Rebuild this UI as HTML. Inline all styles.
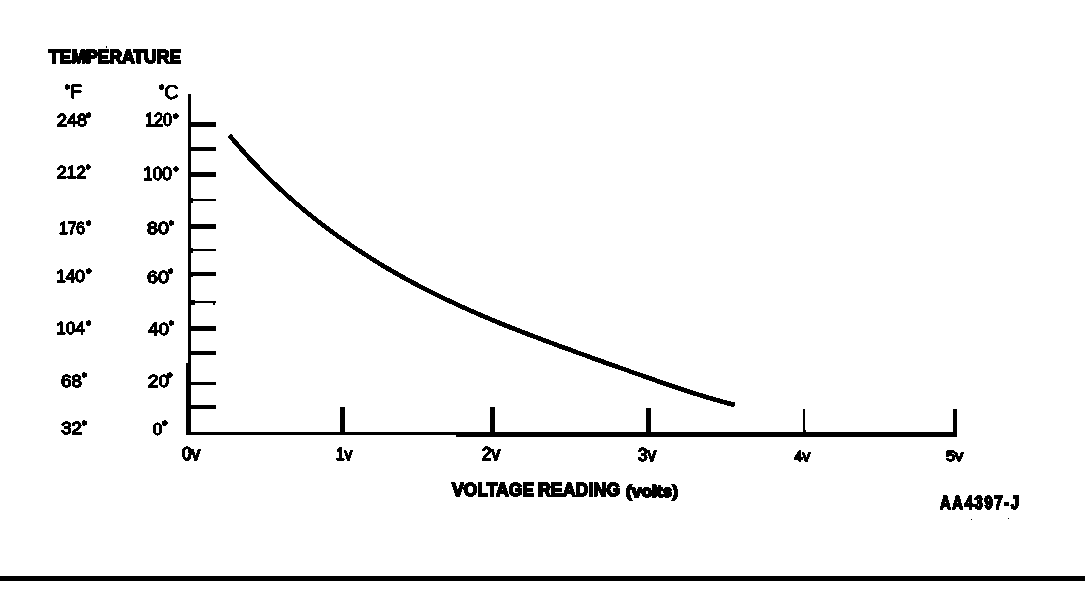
<!DOCTYPE html>
<html lang="en">
<head>
<meta charset="utf-8">
<title>Temperature vs Voltage Reading</title>
<style>
  html, body { margin: 0; padding: 0; background: #fff; }
  body { width: 1088px; height: 612px; overflow: hidden; position: relative; }
  svg { position: absolute; left: 0; top: 0; display: block; }
  text { font-family: "Liberation Sans", Arial, Helvetica, sans-serif; fill: #000; stroke: #000; stroke-linejoin: miter; }
  .r { font-weight: 400; stroke-width: 0.9px; }
  .f { font-weight: 400; stroke-width: 0.6px; }
  .x { font-weight: 400; stroke-width: 1.2px; }
  .d { font-weight: 700; stroke-width: 1.3px; }
  .b { font-weight: 700; stroke-width: 1.3px; }
  .i { font-weight: 700; font-style: italic; stroke-width: 1.3px; }
</style>
</head>
<body>
<svg width="1088" height="612" viewBox="0 0 1088 612">
  <defs>
    <filter id="bw" x="0" y="0" width="1088" height="612" filterUnits="userSpaceOnUse" color-interpolation-filters="sRGB">
      <feComponentTransfer>
        <feFuncR type="discrete" tableValues="0 0 0 1"/>
        <feFuncG type="discrete" tableValues="0 0 0 1"/>
        <feFuncB type="discrete" tableValues="0 0 0 1"/>
      </feComponentTransfer>
    </filter>
  </defs>
  <g filter="url(#bw)">
  <rect x="0" y="0" width="1088" height="612" fill="#fff"/>
  <!-- axes, ticks, rule -->
  <g fill="#000" shape-rendering="crispEdges">
    <rect x="188" y="94" width="3" height="270"/>
    <rect x="186" y="363" width="5" height="72"/>
    <rect x="186" y="432" width="271" height="3"/>
    <rect x="456" y="432" width="501" height="5"/>
    <rect x="190" y="122" width="26" height="5"/>
    <rect x="190" y="147" width="26" height="4"/>
    <rect x="190" y="172" width="26" height="5"/>
    <rect x="190" y="199" width="26" height="2"/>
    <rect x="190" y="198" width="3" height="5"/>
    <rect x="190" y="224" width="26" height="5"/>
    <rect x="190" y="249" width="26" height="2"/>
    <rect x="190" y="248" width="3" height="5"/>
    <rect x="190" y="272" width="26" height="4"/>
    <rect x="190" y="272" width="3" height="5"/>
    <rect x="190" y="301" width="26" height="2"/>
    <rect x="190" y="300" width="5" height="5"/>
    <rect x="213" y="303" width="2" height="2"/>
    <rect x="190" y="326" width="26" height="5"/>
    <rect x="190" y="351" width="26" height="4"/>
    <rect x="190" y="382" width="26" height="3"/>
    <rect x="190" y="405" width="26" height="4"/>
    <rect x="340" y="407" width="5" height="27"/>
    <rect x="490" y="407" width="5" height="27"/>
    <rect x="646" y="408" width="5" height="27"/>
    <rect x="803" y="409" width="2" height="27"/>
    <rect x="803" y="430" width="3" height="3"/>
    <rect x="953" y="409" width="4" height="27"/>
    <rect x="0" y="576" width="1085" height="5"/>
    <rect x="106" y="46" width="1" height="2"/>
    <rect x="971" y="519" width="1" height="1"/>
    <rect x="1008" y="518" width="1" height="1"/>
  </g>
  <!-- curve -->
  <path fill="none" stroke="#000" stroke-width="4.2" stroke-linecap="butt" stroke-linejoin="round"
    d="M229.3,135.20 L236.0,143.16 L243.0,151.16 L250.0,158.87 L257.0,166.30 L264.0,173.46 L271.0,180.37 L278.0,187.05 L285.0,193.50 L292.0,199.74 L299.0,205.78 L306.0,211.63 L313.0,217.30 L320.0,222.80 L327.0,228.14 L334.0,233.32 L341.0,238.35 L348.0,243.23 L355.0,247.98 L362.0,252.60 L369.0,257.09 L376.0,261.46 L383.0,265.71 L390.0,269.85 L397.0,273.88 L404.0,277.80 L411.0,281.63 L418.0,285.36 L425.0,289.00 L432.0,292.55 L439.0,296.01 L446.0,299.39 L453.0,302.69 L460.0,305.92 L467.0,309.08 L474.0,312.17 L481.0,315.20 L488.0,318.17 L495.0,321.09 L502.0,323.95 L509.0,326.77 L516.0,329.54 L523.0,332.27 L530.0,334.97 L537.0,337.63 L544.0,340.26 L551.0,342.87 L558.0,345.46 L565.0,348.02 L572.0,350.57 L579.0,353.11 L586.0,355.63 L593.0,358.15 L600.0,360.66 L607.0,363.16 L614.0,365.65 L621.0,368.14 L628.0,370.63 L635.0,373.11 L642.0,375.58 L649.0,378.04 L656.0,380.48 L663.0,382.91 L670.0,385.31 L677.0,387.69 L684.0,390.02 L691.0,392.31 L698.0,394.55 L705.0,396.71 L712.0,398.80 L719.0,400.79 L726.0,402.67 L733.0,404.43 L734.5,404.78"/>
  <!-- labels -->
  <text><tspan class="b" font-size="19.00" x="48.90" y="62.70" textLength="132.10" lengthAdjust="spacingAndGlyphs">TEMPERATURE</tspan></text>
  <text><tspan class="d" font-size="13.00" x="64.73" y="93.60">°</tspan><tspan class="f" font-size="18.77" x="70.40" y="97.70">F</tspan></text>
  <text><tspan class="d" font-size="13.00" x="158.89" y="93.60">°</tspan><tspan class="f" font-size="19.50" x="164.18" y="98.62">C</tspan></text>
  <text><tspan class="r" font-size="16.81" x="57.00" y="125.70" textLength="30.00" lengthAdjust="spacingAndGlyphs">248</tspan><tspan class="d" font-size="13.00" x="86.00" y="121.56">°</tspan></text>
  <text><tspan class="r" font-size="19.00" x="145.10" y="125.70" textLength="26.90" lengthAdjust="spacingAndGlyphs">120</tspan><tspan class="d" font-size="13.00" x="173.37" y="122.52">°</tspan></text>
  <text><tspan class="r" font-size="15.83" x="57.00" y="177.70" textLength="28.95" lengthAdjust="spacingAndGlyphs">212</tspan><tspan class="d" font-size="11.00" x="86.11" y="173.17">°</tspan></text>
  <text><tspan class="r" font-size="18.40" x="143.10" y="179.65" textLength="28.90" lengthAdjust="spacingAndGlyphs">100</tspan><tspan class="d" font-size="13.00" x="173.55" y="175.60">°</tspan></text>
  <text><tspan class="r" font-size="15.83" x="59.00" y="233.70" textLength="26.00" lengthAdjust="spacingAndGlyphs">176</tspan><tspan class="d" font-size="13.00" x="86.00" y="229.60">°</tspan></text>
  <text><tspan class="r" font-size="15.83" x="147.00" y="233.70" textLength="21.95" lengthAdjust="spacingAndGlyphs">80</tspan><tspan class="d" font-size="13.00" x="168.67" y="229.60">°</tspan></text>
  <text><tspan class="r" font-size="15.83" x="56.10" y="281.70" textLength="28.90" lengthAdjust="spacingAndGlyphs">140</tspan><tspan class="d" font-size="13.00" x="86.28" y="277.60">°</tspan></text>
  <text><tspan class="r" font-size="16.81" x="147.00" y="282.70" textLength="21.95" lengthAdjust="spacingAndGlyphs">60</tspan><tspan class="d" font-size="13.00" x="168.09" y="277.60">°</tspan></text>
  <text><tspan class="r" font-size="15.83" x="56.10" y="333.70" textLength="28.90" lengthAdjust="spacingAndGlyphs">104</tspan><tspan class="d" font-size="13.00" x="86.00" y="330.08">°</tspan></text>
  <text><tspan class="r" font-size="16.81" x="148.00" y="334.70" textLength="20.95" lengthAdjust="spacingAndGlyphs">40</tspan><tspan class="d" font-size="13.00" x="168.67" y="330.08">°</tspan></text>
  <text><tspan class="r" font-size="17.39" x="61.00" y="386.65" textLength="20.95" lengthAdjust="spacingAndGlyphs">68</tspan><tspan class="d" font-size="13.00" x="81.72" y="381.60">°</tspan></text>
  <text><tspan class="r" font-size="16.81" x="148.00" y="386.70" textLength="20.95" lengthAdjust="spacingAndGlyphs">20</tspan><tspan class="d" font-size="13.00" x="167.19" y="381.60">°</tspan></text>
  <text><tspan class="r" font-size="15.83" x="61.00" y="433.70" textLength="20.95" lengthAdjust="spacingAndGlyphs">32</tspan><tspan class="d" font-size="13.00" x="81.72" y="429.60">°</tspan></text>
  <text><tspan class="r" font-size="16.81" x="153.00" y="434.70" textLength="9.00" lengthAdjust="spacingAndGlyphs">0</tspan><tspan class="d" font-size="13.00" x="162.18" y="429.60">°</tspan></text>
  <text><tspan class="x" font-size="18.77" x="182.00" y="459.70" textLength="18.10" lengthAdjust="spacingAndGlyphs">0v</tspan></text>
  <text><tspan class="x" font-size="16.81" x="336.00" y="459.70" textLength="16.10" lengthAdjust="spacingAndGlyphs">1v</tspan></text>
  <text><tspan class="x" font-size="18.77" x="482.00" y="459.70" textLength="18.10" lengthAdjust="spacingAndGlyphs">2v</tspan></text>
  <text><tspan class="x" font-size="18.77" x="638.00" y="460.70" textLength="18.10" lengthAdjust="spacingAndGlyphs">3v</tspan></text>
  <text><tspan class="x" font-size="15.40" x="794.00" y="460.70" textLength="16.10" lengthAdjust="spacingAndGlyphs">4v</tspan></text>
  <text><tspan class="x" font-size="15.40" x="945.96" y="460.70" textLength="17.14" lengthAdjust="spacingAndGlyphs">5v</tspan></text>
  <text><tspan class="b" font-size="19.00" x="451.90" y="495.70" textLength="82.10" lengthAdjust="spacingAndGlyphs">VOLTAGE</tspan> <tspan class="b" font-size="19.00" x="538.00" y="495.70" textLength="82.00" lengthAdjust="spacingAndGlyphs">READING</tspan> <tspan class="b" font-size="16.00" x="626.00" y="496.52" textLength="52.00" lengthAdjust="spacingAndGlyphs">(volts)</tspan></text>
  <text transform="matrix(0.78 0 0 1 206.800 0)"><tspan class="b" font-size="19.00" x="940.00" y="508.63" textLength="101.28" lengthAdjust="spacing">AA4397-J</tspan></text>
  </g>
</svg>
</body>
</html>
